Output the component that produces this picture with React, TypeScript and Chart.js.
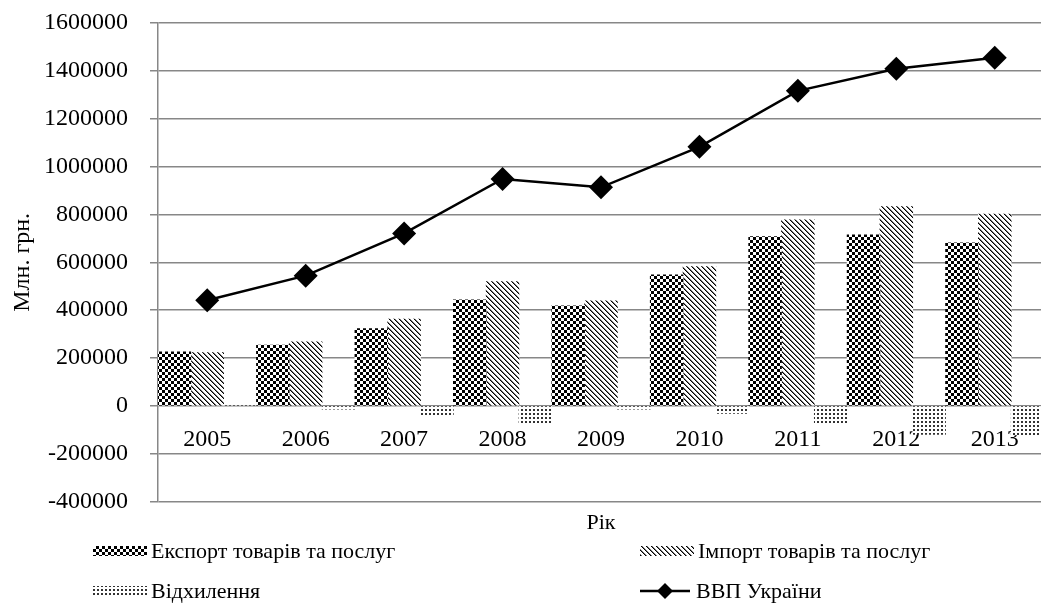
import React, { useEffect, useRef } from "react";
import { Chart, registerables } from "chart.js";

Chart.register(...registerables);

const years = ["2005", "2006", "2007", "2008", "2009", "2010", "2011", "2012", "2013"];
const exportValues = [226000, 254000, 323000, 443000, 418000, 548000, 707000, 715000, 681000];
const importValues = [223000, 268000, 363000, 519000, 439000, 582000, 777000, 833000, 802000];
const deviationValues = [3000, -14000, -42000, -77000, -14000, -31000, -72000, -119000, -121000];
const gdpValues = [441452, 544153, 720731, 948056, 913345, 1082569, 1316600, 1408889, 1454931];
const yTicks = [-400000, -200000, 0, 200000, 400000, 600000, 800000, 1000000, 1200000, 1400000, 1600000];

const seriesNames = {
  exp: "Експорт товарів та послуг",
  imp: "Імпорт товарів та послуг",
  dev: "Відхилення",
  gdp: "ВВП України",
};
const yTitle = "Млн. грн.";
const xTitle = "Рік";

const FONT = "'Liberation Serif', 'Times New Roman', serif";
const GRID = "#878787";

function makePattern(kind: string): CanvasPattern | string {
  const c = document.createElement("canvas");
  const w = kind === "checker" ? 6 : kind === "diag" ? 5 : 4;
  const h = kind === "checker" ? 6 : kind === "diag" ? 5 : 4;
  c.width = w;
  c.height = h;
  const g = c.getContext("2d");
  if (!g) return "#000";
  g.fillStyle = "#fff";
  g.fillRect(0, 0, w, h);
  if (kind === "checker") {
    g.fillStyle = "#000";
    g.fillRect(0, 0, 3, 3);
    g.fillRect(3, 3, 3, 3);
  } else if (kind === "diag") {
    for (let r = 0; r < h; r++) {
      g.fillStyle = "#000";
      g.fillRect(r, r, 1, 1);
      g.fillStyle = "#777";
      g.fillRect((r + 1) % w, r, 1, 1);
    }
  } else {
    g.fillStyle = "#333";
    g.fillRect(1, 1, 2, 2);
  }
  const p = g.createPattern(c, "repeat");
  return p || "#000";
}

export default function App() {
  const ref = useRef<HTMLCanvasElement | null>(null);

  useEffect(() => {
    const canvas = ref.current;
    if (!canvas) return;
    const pChecker = makePattern("checker");
    const pDiag = makePattern("diag");
    const pDots = makePattern("dots");

    const legendPlugin = {
      id: "customLegend",
      afterDraw(chart: any) {
        const ctx = chart.ctx as CanvasRenderingContext2D;
        ctx.save();
        ctx.font = `22px ${FONT}`;
        ctx.fillStyle = "#000";
        ctx.textBaseline = "middle";
        ctx.textAlign = "left";
        const rows = [551, 591];
        const cols = [93, 640];
        const sw = 54;
        const sh = 10;
        const items = [
          { col: 0, row: 0, fill: pChecker, text: seriesNames.exp },
          { col: 1, row: 0, fill: pDiag, text: seriesNames.imp },
          { col: 0, row: 1, fill: pDots, text: seriesNames.dev },
        ];
        for (const it of items) {
          const x = cols[it.col];
          const y = rows[it.row];
          ctx.fillStyle = it.fill as any;
          ctx.fillRect(x, y - sh / 2, sw, sh);
          ctx.fillStyle = "#000";
          ctx.fillText(it.text, x + sw + 4, y + 1);
        }
        const lx = cols[1];
        const ly = rows[1];
        ctx.strokeStyle = "#000";
        ctx.lineWidth = 2.5;
        ctx.beginPath();
        ctx.moveTo(lx, ly);
        ctx.lineTo(lx + 50, ly);
        ctx.stroke();
        ctx.beginPath();
        const cx = lx + 25;
        const r = 8;
        ctx.moveTo(cx - r, ly);
        ctx.lineTo(cx, ly - r);
        ctx.lineTo(cx + r, ly);
        ctx.lineTo(cx, ly + r);
        ctx.closePath();
        ctx.fillStyle = "#000";
        ctx.fill();
        ctx.fillText(seriesNames.gdp, lx + 56, ly + 1);
        ctx.restore();
      },
    };

    const chart = new Chart(canvas, {
      type: "bar",
      data: {
        labels: years,
        datasets: [
          {
            type: "line",
            label: seriesNames.gdp,
            data: gdpValues,
            borderColor: "#000",
            borderWidth: 2.5,
            pointStyle: "rectRot",
            pointRadius: 12,
            pointBackgroundColor: "#000",
            pointBorderWidth: 0,
            tension: 0,
            order: 0,
          } as any,
          {
            label: seriesNames.exp,
            data: exportValues,
            backgroundColor: pChecker as any,
            borderWidth: 0,
            categoryPercentage: 1,
            barPercentage: 1,
            order: 1,
          },
          {
            label: seriesNames.imp,
            data: importValues,
            backgroundColor: pDiag as any,
            borderWidth: 0,
            categoryPercentage: 1,
            barPercentage: 1,
            order: 1,
          },
          {
            label: seriesNames.dev,
            data: deviationValues,
            backgroundColor: pDots as any,
            borderWidth: 0,
            categoryPercentage: 1,
            barPercentage: 1,
            order: 1,
          },
        ],
      },
      options: {
        animation: false,
        responsive: false,
        maintainAspectRatio: false,
        devicePixelRatio: 1,
        layout: { padding: { left: 0, right: 1, top: 23, bottom: 71 } },
        plugins: {
          legend: { display: false },
          tooltip: { enabled: false },
        },
        scales: {
          x: {
            type: "category",
            position: { y: 0 } as any,
            grid: { display: false },
            border: { display: false },
            ticks: {
              font: { family: FONT, size: 24 },
              color: "#000",
              padding: 11,
              maxRotation: 0,
              autoSkip: false,
            },
          },
          x2: {
            type: "category",
            position: "bottom",
            labels: years,
            grid: { display: false },
            border: { display: false },
            ticks: { display: false },
            title: {
              display: true,
              text: xTitle,
              font: { family: FONT, size: 22 },
              color: "#000",
              padding: { top: 0, bottom: 0 },
            },
          },
          y: {
            min: -400000,
            max: 1600000,
            afterFit: (s: any) => {
              s.width = 158;
              s.paddingTop = 0;
              s.paddingBottom = 0;
            },
            afterBuildTicks: (s: any) => {
              s.ticks = yTicks.map((v) => ({ value: v }));
            },
            grid: {
              color: GRID,
              lineWidth: 1.5,
              tickLength: 8,
              drawTicks: true,
            },
            border: { display: true, color: GRID, width: 1.5 },
            ticks: {
              font: { family: FONT, size: 24 },
              color: "#000",
              padding: 22,
              callback: (v: any) => String(v),
            },
            title: {
              display: true,
              text: yTitle,
              font: { family: FONT, size: 24 },
              color: "#000",
              padding: { top: 8, bottom: 0 },
            },
          },
        },
      },
      plugins: [legendPlugin],
    });
    return () => chart.destroy();
  }, []);

  return (
    <div
      style={{
        position: "absolute",
        left: 0,
        top: 0,
        width: 1041,
        height: 607,
        overflow: "hidden",
        background: "#fff",
      }}
    >
      <canvas ref={ref} width={1056} height={607} style={{ display: "block" }} />
    </div>
  );
}
